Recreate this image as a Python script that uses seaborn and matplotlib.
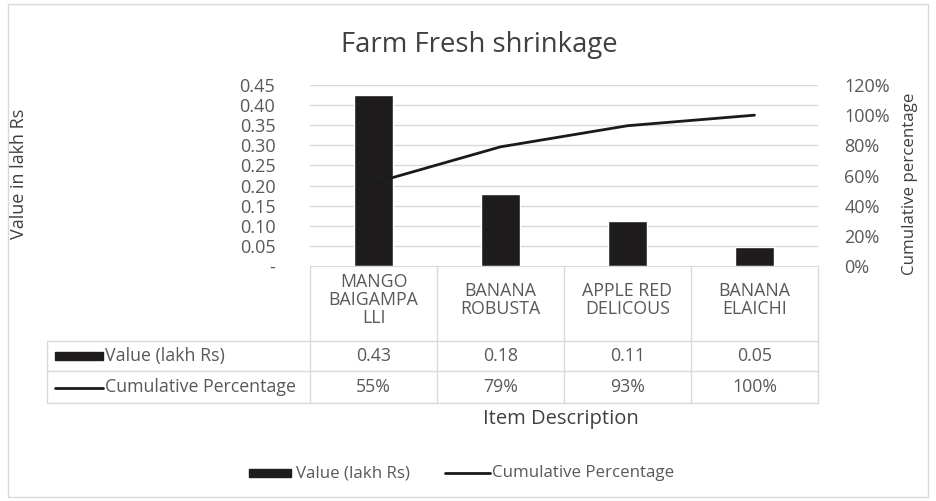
import matplotlib.pyplot as plt
import numpy as np
import pandas as pd
import seaborn as sns
from matplotlib.lines import Line2D
from matplotlib.patches import Rectangle

# data
items = ['MANGO\nBAIGAMPA\nLLI', 'BANANA\nROBUSTA', 'APPLE RED\nDELICOUS', 'BANANA\nELAICHI']
values = [0.425, 0.178, 0.112, 0.048]
cum_pct = [0.55, 0.79, 0.93, 1.00]
value_labels = ['0.43', '0.18', '0.11', '0.05']
pct_labels = ['55%', '79%', '93%', '100%']
left_ticks = [0.0, 0.05, 0.10, 0.15, 0.20, 0.25, 0.30, 0.35, 0.40, 0.45]
left_ticklabels = ['-', '0.05', '0.10', '0.15', '0.20', '0.25', '0.30', '0.35', '0.40', '0.45']
right_ticks = [0, 0.2, 0.4, 0.6, 0.8, 1.0, 1.2]
right_ticklabels = ['0%', '20%', '40%', '60%', '80%', '100%', '120%']

df = pd.DataFrame({'item': items, 'value': values, 'cum': cum_pct})

sns.set_style('white')
plt.rcParams['font.family'] = ['Open Sans', 'DejaVu Sans']
txt = '#595959'
dark = '#404040'
grid = '#d9d9d9'
bar_col = '#1e1c1d'
fs = 12.8

W, H = 936, 501
fig = plt.figure(figsize=(W / 100, H / 100), dpi=100)

def fx(x):
    return x / W

def fy(y):
    return 1 - y / H

# plot area (pixel coordinates of the reference)
x0, x1, ytop, ybot = 310, 818, 85, 266
ax = fig.add_axes([fx(x0), fy(ybot), fx(x1 - x0), (ybot - ytop) / H])

sns.barplot(data=df, x='item', y='value', color=bar_col, width=0.31,
            saturation=1, ax=ax)
ax.set_ylim(0, 0.45)
ax.set_xlim(-0.5, 3.5)
ax.set_yticks(left_ticks)
ax.set_yticklabels(left_ticklabels, color=txt, fontsize=13)
ax.tick_params(axis='y', length=0, pad=25)
ax.set_xticks([])
ax.set_xlabel('')
ax.set_ylabel('')
for t in left_ticks[1:]:
    ax.axhline(t, color=grid, lw=1, zorder=0)
for s in ['top', 'left', 'right']:
    ax.spines[s].set_visible(False)
ax.spines['bottom'].set_color(grid)

ax2 = ax.twinx()
sns.lineplot(x=np.arange(len(cum_pct)), y=df['cum'], color='#1a1a1a', lw=2, ax=ax2)
ax2.set_ylim(0, 1.2)
ax2.set_xlim(-0.5, 3.5)
ax2.set_yticks(right_ticks)
ax2.set_yticklabels(right_ticklabels, color=txt, fontsize=13)
ax2.tick_params(axis='y', length=0, pad=19)
ax2.set_ylabel('')
for s in ['top', 'left', 'right', 'bottom']:
    ax2.spines[s].set_visible(False)

# titles and axis labels
fig.text(fx(479), fy(52), 'Farm Fresh shrinkage', ha='center', va='baseline',
         fontsize=19.8, color=dark)
fig.text(fx(19), fy(174), 'Value in lakh Rs', rotation=90, ha='center',
         va='center', fontsize=13, color=dark)
fig.text(fx(910), fy(184), 'Cumulative percentage', rotation=90, ha='center',
         va='center', fontsize=12.2, color=dark)
fig.text(fx(561), fy(419), 'Item Description', ha='center', va='center',
         fontsize=14.5, color=dark)

# data table
cols = [310, 437, 564, 691, 818]
lkw = dict(color=grid, lw=1, transform=fig.transFigure)
for yy in [341, 371, 403]:
    fig.add_artist(Line2D([fx(47), fx(818)], [fy(yy)] * 2, **lkw))
fig.add_artist(Line2D([fx(47)] * 2, [fy(341), fy(403)], **lkw))
for c in cols:
    fig.add_artist(Line2D([fx(c)] * 2, [fy(266), fy(403)], **lkw))

for i in range(len(items)):
    cx = (cols[i] + cols[i + 1]) / 2
    fig.text(fx(cx), fy(300), items[i], ha='center', va='center', fontsize=fs,
             color=txt, linespacing=1.0)
    fig.text(fx(cx), fy(356), value_labels[i], ha='center', va='center',
             fontsize=fs, color=txt)
    fig.text(fx(cx), fy(387), pct_labels[i], ha='center', va='center',
             fontsize=fs, color=txt)

fig.add_artist(Rectangle((fx(55), fy(360)), fx(48), 8 / H, color=bar_col,
                         transform=fig.transFigure))
fig.text(fx(105), fy(356), 'Value (lakh Rs)', ha='left', va='center',
         fontsize=fs, color=txt)
fig.add_artist(Line2D([fx(55), fx(103)], [fy(388)] * 2, color='#1a1a1a', lw=2,
                      transform=fig.transFigure))
fig.text(fx(105), fy(387), 'Cumulative Percentage', ha='left', va='center',
         fontsize=fs, color=txt)

# legend
fig.add_artist(Rectangle((fx(249), fy(477)), fx(42), 8 / H, color=bar_col,
                         transform=fig.transFigure))
fig.text(fx(296), fy(473), 'Value (lakh Rs)', ha='left', va='center',
         fontsize=12.2, color=txt)
fig.add_artist(Line2D([fx(445), fx(490)], [fy(473)] * 2, color='#1a1a1a', lw=2,
                      transform=fig.transFigure))
fig.text(fx(492), fy(473), 'Cumulative Percentage', ha='left', va='center',
         fontsize=12.2, color=txt)

# chart border
fig.add_artist(Rectangle((fx(8), fy(497)), fx(920), 493 / H, fill=False,
                         edgecolor=grid, lw=1, transform=fig.transFigure))

fig.savefig('out.png', dpi=100)
